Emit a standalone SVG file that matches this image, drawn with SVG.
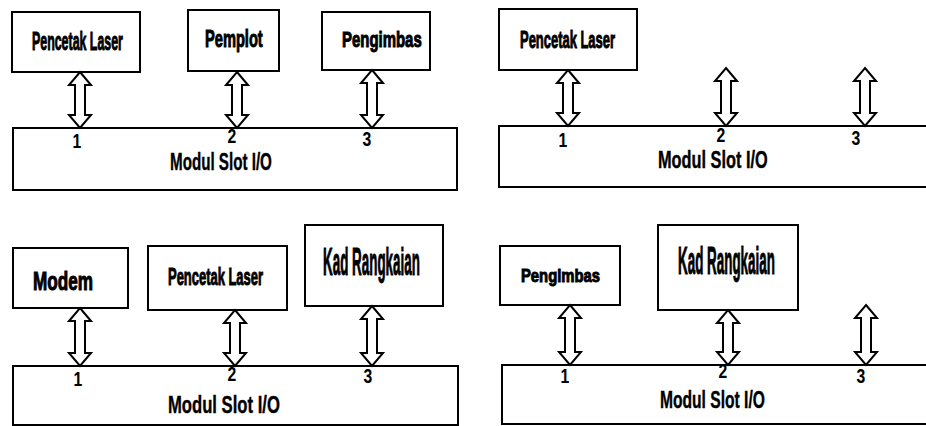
<svg xmlns="http://www.w3.org/2000/svg" width="926" height="426" viewBox="0 0 926 426">
<style>
.box{fill:#fff;stroke:#000;stroke-width:2}
.arr{fill:#fff;stroke:#000;stroke-width:2;stroke-linejoin:miter}
.lbl{font-family:"Liberation Sans",Arial,sans-serif;font-weight:bold;fill:#000;stroke:#000;stroke-width:1}
.mod{font-family:"Liberation Sans",Arial,sans-serif;font-weight:bold;font-size:24px;fill:#000;stroke:#000;stroke-width:0.4}
.dig{font-family:"Liberation Sans",Arial,sans-serif;font-weight:bold;font-size:21px;fill:#000;text-anchor:middle}
</style>
<rect width="926" height="426" fill="#fff"/>

<!-- Panel 1 -->
<g id="p1-modul"><rect class="box" x="13" y="128" width="444" height="62"/><text class="mod" transform="translate(170,170) scale(0.632,1)">Modul Slot I/O</text></g>
<g id="p1-pencetak"><rect class="box" x="12" y="12" width="128" height="60"/><text class="lbl" font-size="25" transform="translate(32,50) scale(0.496,1)">Pencetak Laser</text></g>
<g id="p1-pemplot"><rect class="box" x="188" y="10" width="91" height="61"/><text class="lbl" font-size="24" transform="translate(205,47) scale(0.61,1)">Pemplot</text></g>
<g id="p1-pengimbas"><rect class="box" x="322" y="12" width="108" height="58"/><text class="lbl" font-size="22" transform="translate(342,47) scale(0.68,1)">Pengimbas</text></g>

<!-- Panel 2 -->
<g id="p2-modul"><rect class="box" x="499" y="126" width="440" height="61"/><text class="mod" transform="translate(658,168) scale(0.68,1)">Modul Slot I/O</text></g>
<g id="p2-pencetak"><rect class="box" x="499" y="9" width="138" height="61"/><text class="lbl" font-size="24" transform="translate(520,48) scale(0.54,1)">Pencetak Laser</text></g>

<!-- Panel 3 -->
<g id="p3-modul"><rect class="box" x="13" y="366" width="445" height="59"/><text class="mod" transform="translate(168,413) scale(0.694,1)">Modul Slot I/O</text></g>
<g id="p3-modem"><rect class="box" x="13" y="248" width="115" height="60"/><text class="lbl" font-size="25" transform="translate(33,290) scale(0.686,1)">Modem</text></g>
<g id="p3-pencetak"><rect class="box" x="148" y="246" width="139" height="64"/><text class="lbl" font-size="24" transform="translate(168,285) scale(0.54,1)">Pencetak Laser</text></g>
<g id="p3-kad"><rect class="box" x="305" y="225" width="138" height="81"/><text class="lbl" font-size="38" transform="translate(323,275) scale(0.353,1)">Kad Rangkaian</text></g>

<!-- Panel 4 -->
<g id="p4-modul"><rect class="box" x="502" y="365" width="440" height="59"/><text class="mod" transform="translate(660,408) scale(0.651,1)">Modul Slot I/O</text></g>
<g id="p4-pengimbas"><rect class="box" x="500" y="246" width="120" height="59"/><text class="lbl" font-size="19" transform="translate(521,282) scale(0.78,1)">Pengimbas</text></g>
<g id="p4-kad"><rect class="box" x="658" y="225" width="140" height="85"/><text class="lbl" font-size="38" transform="translate(678,274) scale(0.353,1)">Kad Rangkaian</text></g>

<g id="connectors">
<path class="arr" d="M80,72 L91,85 L85,85 L85,115 L91,115 L80,128 L69,115 L75,115 L75,85 L69,85 Z"/>
<path class="arr" d="M237,72 L248,85 L242,85 L242,115 L248,115 L237,128 L226,115 L232,115 L232,85 L226,85 Z"/>
<path class="arr" d="M372,70 L383,83 L377,83 L377,115 L383,115 L372,128 L361,115 L367,115 L367,83 L361,83 Z"/>
<path class="arr" d="M568,70 L579,83 L573,83 L573,113 L579,113 L568,126 L557,113 L563,113 L563,83 L557,83 Z"/>
<path class="arr" d="M726,68 L737,81 L731,81 L731,113 L737,113 L726,126 L715,113 L721,113 L721,81 L715,81 Z"/>
<path class="arr" d="M865,68 L876,81 L870,81 L870,113 L876,113 L865,126 L854,113 L860,113 L860,81 L854,81 Z"/>
<path class="arr" d="M80,308 L91,321 L85,321 L85,353 L91,353 L80,366 L69,353 L75,353 L75,321 L69,321 Z"/>
<path class="arr" d="M235,310 L246,323 L240,323 L240,353 L246,353 L235,366 L224,353 L230,353 L230,323 L224,323 Z"/>
<path class="arr" d="M372,306 L383,319 L377,319 L377,353 L383,353 L372,366 L361,353 L367,353 L367,319 L361,319 Z"/>
<path class="arr" d="M570,305 L581,318 L575,318 L575,352 L581,352 L570,365 L559,352 L565,352 L565,318 L559,318 Z"/>
<path class="arr" d="M728,310 L739,323 L733,323 L733,352 L739,352 L728,365 L717,352 L723,352 L723,323 L717,323 Z"/>
<path class="arr" d="M866,305 L877,318 L871,318 L871,352 L877,352 L866,365 L855,352 L861,352 L861,318 L855,318 Z"/>
</g>

<g id="slot-numbers">
<text class="dig" transform="translate(77,148) scale(0.75,1)">1</text>
<text class="dig" transform="translate(232,143) scale(0.75,1)">2</text>
<text class="dig" transform="translate(367,146) scale(0.75,1)">3</text>
<text class="dig" transform="translate(563,147) scale(0.75,1)">1</text>
<text class="dig" transform="translate(721,142) scale(0.75,1)">2</text>
<text class="dig" transform="translate(856,145) scale(0.75,1)">3</text>
<text class="dig" transform="translate(78,386) scale(0.75,1)">1</text>
<text class="dig" transform="translate(232,381) scale(0.75,1)">2</text>
<text class="dig" transform="translate(368,383) scale(0.75,1)">3</text>
<text class="dig" transform="translate(565,383) scale(0.75,1)">1</text>
<text class="dig" transform="translate(723,378) scale(0.75,1)">2</text>
<text class="dig" transform="translate(861,383) scale(0.75,1)">3</text>
</g>
</svg>
